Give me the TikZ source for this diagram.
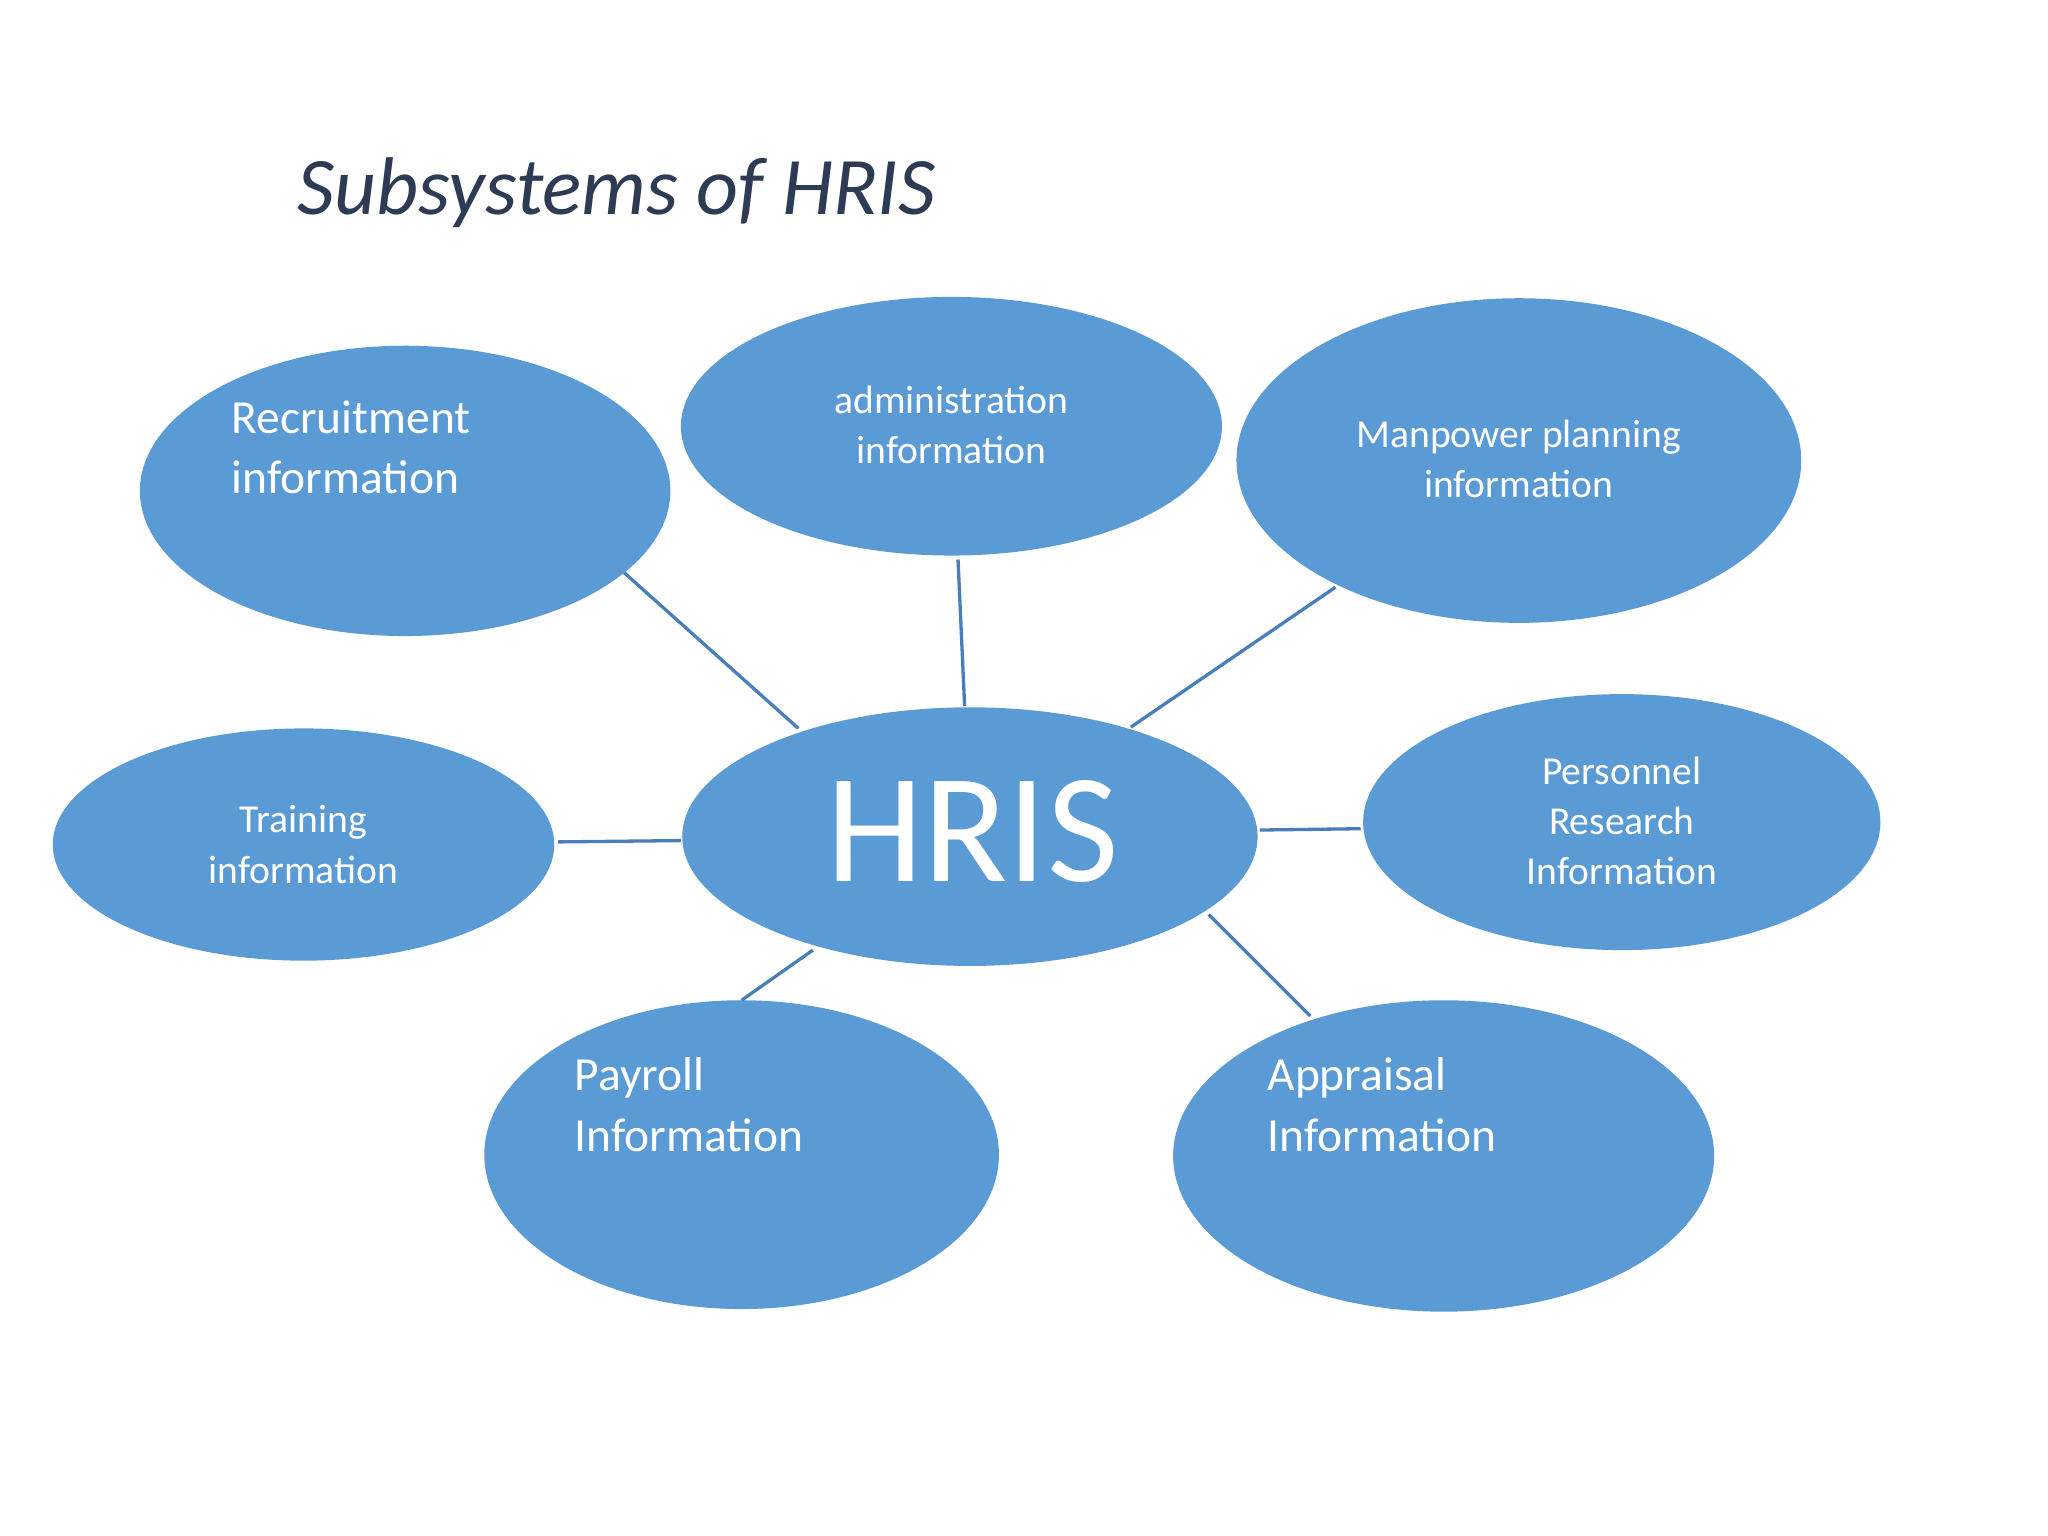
\documentclass[tikz,border=0pt]{standalone}
\usepackage{fontspec}
\setmainfont{Carlito}
\usetikzlibrary{shapes.geometric}
\definecolor{fillb}{HTML}{5B9BD5}
\definecolor{lineb}{HTML}{4A7EBB}
\definecolor{titlec}{HTML}{2E3B55}
\tikzset{
 bub/.style={ellipse,fill=fillb,draw=none,inner sep=0pt},
 lbl/.style={text=white,font=\fontsize{30}{38}\selectfont,align=center},
 lblL/.style={text=white,font=\fontsize{36}{46}\selectfont,align=left,anchor=north west},
 conn/.style={lineb,line width=2.5pt}
}
\begin{document}
\begin{tikzpicture}[x=1pt,y=-1pt]
\useasboundingbox (0,0) rectangle (1552,1164);
\fill[white] (0,0) rectangle (1552,1164);
\node[anchor=west,text=titlec,font=\itshape\fontsize{62}{70}\selectfont] (title) at (222,146) {Subsystems of HRIS};
\node[bub,minimum width=402,minimum height=220] (rec) at (307,372) {};
\node[bub,minimum width=410,minimum height=196] (adm) at (721,323) {};
\node[bub,minimum width=428,minimum height=246] (man) at (1151,349) {};
\node[bub,minimum width=380,minimum height=176] (tra) at (230,640) {};
\node[bub,minimum width=436,minimum height=196] (hris) at (735,634) {};
\node[bub,minimum width=392,minimum height=194] (per) at (1229,623) {};
\node[bub,minimum width=390,minimum height=234] (pay) at (562,875) {};
\node[bub,minimum width=410,minimum height=236] (app) at (1094,876) {};
\node[lblL] (trec) at (172,300) {Recruitment\\information};
\node[lbl] (tadm) at (721,322) {administration\\information};
\node[lbl] (tman) at (1151,348) {Manpower planning\\information};
\node[lbl] (ttra) at (230,640) {Training\\information};
\node[lbl] (tper) at (1229,622) {Personnel\\Research\\Information};
\node[text=white,font=\fontsize{118}{118}\selectfont] (thris) at (737,630) {HRIS};
\node[lblL] (tpay) at (432,798) {Payroll\\Information};
\node[lblL] (tapp) at (957,798) {Appraisal\\Information};
\coordinate (r1) at (473,434); \coordinate (r2) at (605,552);
\coordinate (a1) at (726,424); \coordinate (a2) at (731,535);
\coordinate (m1) at (1012,445); \coordinate (m2) at (857,551);
\coordinate (t1) at (423,638); \coordinate (t2) at (516,637);
\coordinate (p1) at (955,629); \coordinate (p2) at (1031,628);
\coordinate (y1) at (616,720); \coordinate (y2) at (562,758);
\coordinate (q1) at (916,693); \coordinate (q2) at (993,770);
\draw[conn] (r1)--(r2); \draw[conn] (a1)--(a2); \draw[conn] (m1)--(m2);
\draw[conn] (t1)--(t2); \draw[conn] (p1)--(p2); \draw[conn] (y1)--(y2);
\draw[conn] (q1)--(q2);
\end{tikzpicture}
\end{document}
